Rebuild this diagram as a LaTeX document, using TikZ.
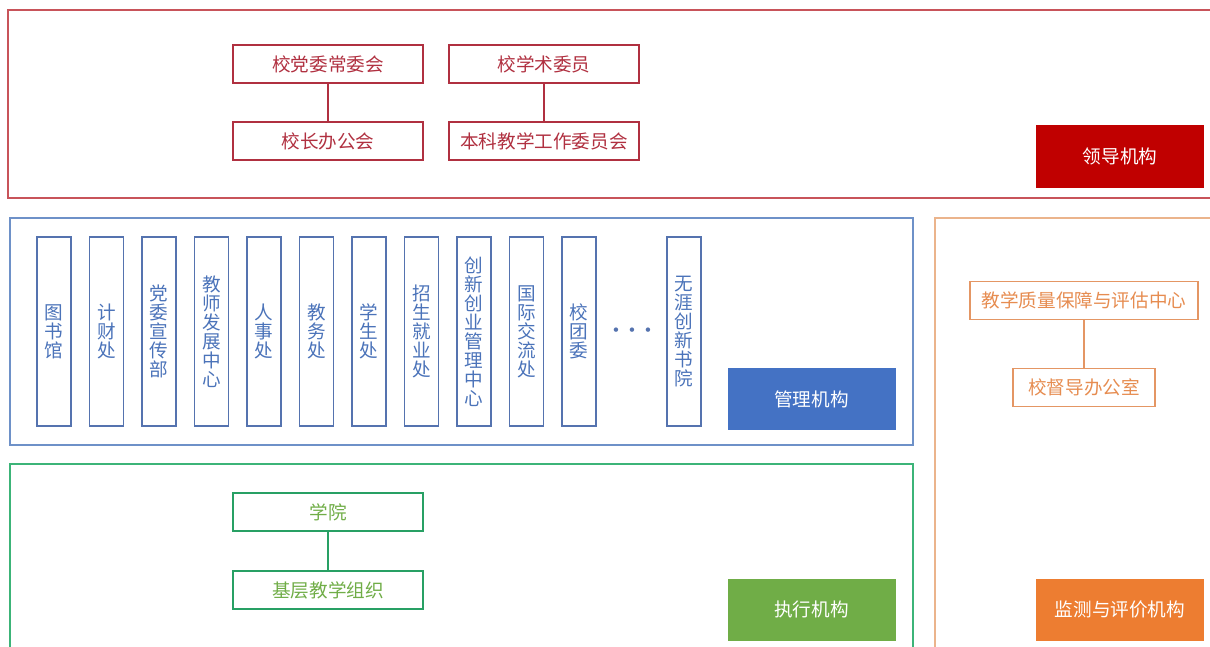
\documentclass[tikz,border=0pt]{standalone}
\usepackage{fontspec}
\newfontfamily\cjk{Noto Sans CJK SC}
\usepackage{tikz}
\usetikzlibrary{positioning}

\definecolor{leadLine}{RGB}{200,84,90}
\definecolor{leadBox}{RGB}{176,48,64}
\definecolor{leadFill}{RGB}{192,0,0}
\definecolor{mgLine}{RGB}{110,145,200}
\definecolor{mgBox}{RGB}{85,115,175}
\definecolor{mgText}{RGB}{75,115,185}
\definecolor{mgFill}{RGB}{68,114,196}
\definecolor{exLine}{RGB}{60,180,120}
\definecolor{exBox}{RGB}{40,160,100}
\definecolor{exText}{RGB}{112,173,71}
\definecolor{exFill}{RGB}{112,173,71}
\definecolor{moLine}{RGB}{235,180,140}
\definecolor{moBox}{RGB}{228,150,100}
\definecolor{moText}{RGB}{230,140,80}
\definecolor{moFill}{RGB}{237,125,49}

\begin{document}
\begin{tikzpicture}[x=0.5pt, y=-0.5pt,
	hbox/.style={draw, line width=0.8pt, minimum width=95pt, minimum height=19pt, inner sep=0pt, font=\cjk\fontsize{9.3}{9.5}\selectfont},
	vbox/.style={draw=mgBox, text=mgText, line width=0.8pt, minimum width=17pt, minimum height=94.5pt, inner sep=0pt, align=center, font=\cjk\fontsize{9.3}{9.5}\selectfont},
	tag/.style={minimum width=84pt, minimum height=31pt, inner sep=0pt, text=white, font=\cjk\fontsize{9.3}{9.5}\selectfont},
	frame/.style={line width=0.8pt}]
				\useasboundingbox (0,0) rectangle (1210,647);
				% outer frames
				\draw[frame, leadLine] (8,10) rectangle (1216,198);
				\draw[frame, mgLine] (10,218) rectangle (913,445);
				\draw[frame, exLine] (10,464) rectangle (913,655);
				\draw[frame, moLine] (935,218) rectangle (1216,655);
				% leadership
				\node[hbox, draw=leadBox, text=leadBox] (dwcw) at (328,64) {校党委常委会};
				\node[hbox, draw=leadBox, text=leadBox] (xzbg) at (328,141) {校长办公会};
				\node[hbox, draw=leadBox, text=leadBox] (xswy) at (544,64) {校学术委员};
				\node[hbox, draw=leadBox, text=leadBox] (bkjx) at (544,141) {本科教学工作委员会};
				\draw[line width=0.8pt, leadBox] (dwcw) -- (xzbg);
				\draw[line width=0.8pt, leadBox] (xswy) -- (bkjx);
				\node[tag, fill=leadFill] (ldjg) at (1120,156.5) {领导机构};
				% management
				\foreach \i/\txt in {0/图\\书\\馆, 1/计\\财\\处, 2/党\\委\\宣\\传\\部, 3/教\\师\\发\\展\\中\\心,
					4/人\\事\\处, 5/教\\务\\处, 6/学\\生\\处, 7/招\\生\\就\\业\\处,
					8/创\\新\\创\\业\\管\\理\\中\\心, 9/国\\际\\交\\流\\处, 10/校\\团\\委, 12/无\\涯\\创\\新\\书\\院}
					\node[vbox] (bm\i) at (54+52.5*\i,331.5) {\txt};
				\node[text=mgBox, font=\fontsize{7.5}{7.5}\selectfont] (dots) at (632,331) {\textbullet\hspace{1.8pt}\textbullet\hspace{1.8pt}\textbullet};
				\node[tag, fill=mgFill] (gljg) at (811.5,399) {管理机构};
				% execution
				\node[hbox, draw=exBox, text=exText] (xy) at (328,512) {学院};
				\node[hbox, draw=exBox, text=exText] (jczz) at (328,590) {基层教学组织};
				\draw[line width=0.8pt, exBox] (xy) -- (jczz);
				\node[tag, fill=exFill] (zxjg) at (811.5,609.5) {执行机构};
				% monitoring
				\node[hbox, draw=moBox, text=moText, minimum width=114pt] (zlbz) at (1084,300.5) {教学质量保障与评估中心};
				\node[hbox, draw=moBox, text=moText, minimum width=71pt] (ddbg) at (1084,387.5) {校督导办公室};
				\draw[line width=0.8pt, moBox] (zlbz) -- (ddbg);
				\node[tag, fill=moFill] (jcpj) at (1120,609.5) {监测与评价机构};
			\end{tikzpicture}
\end{document}
